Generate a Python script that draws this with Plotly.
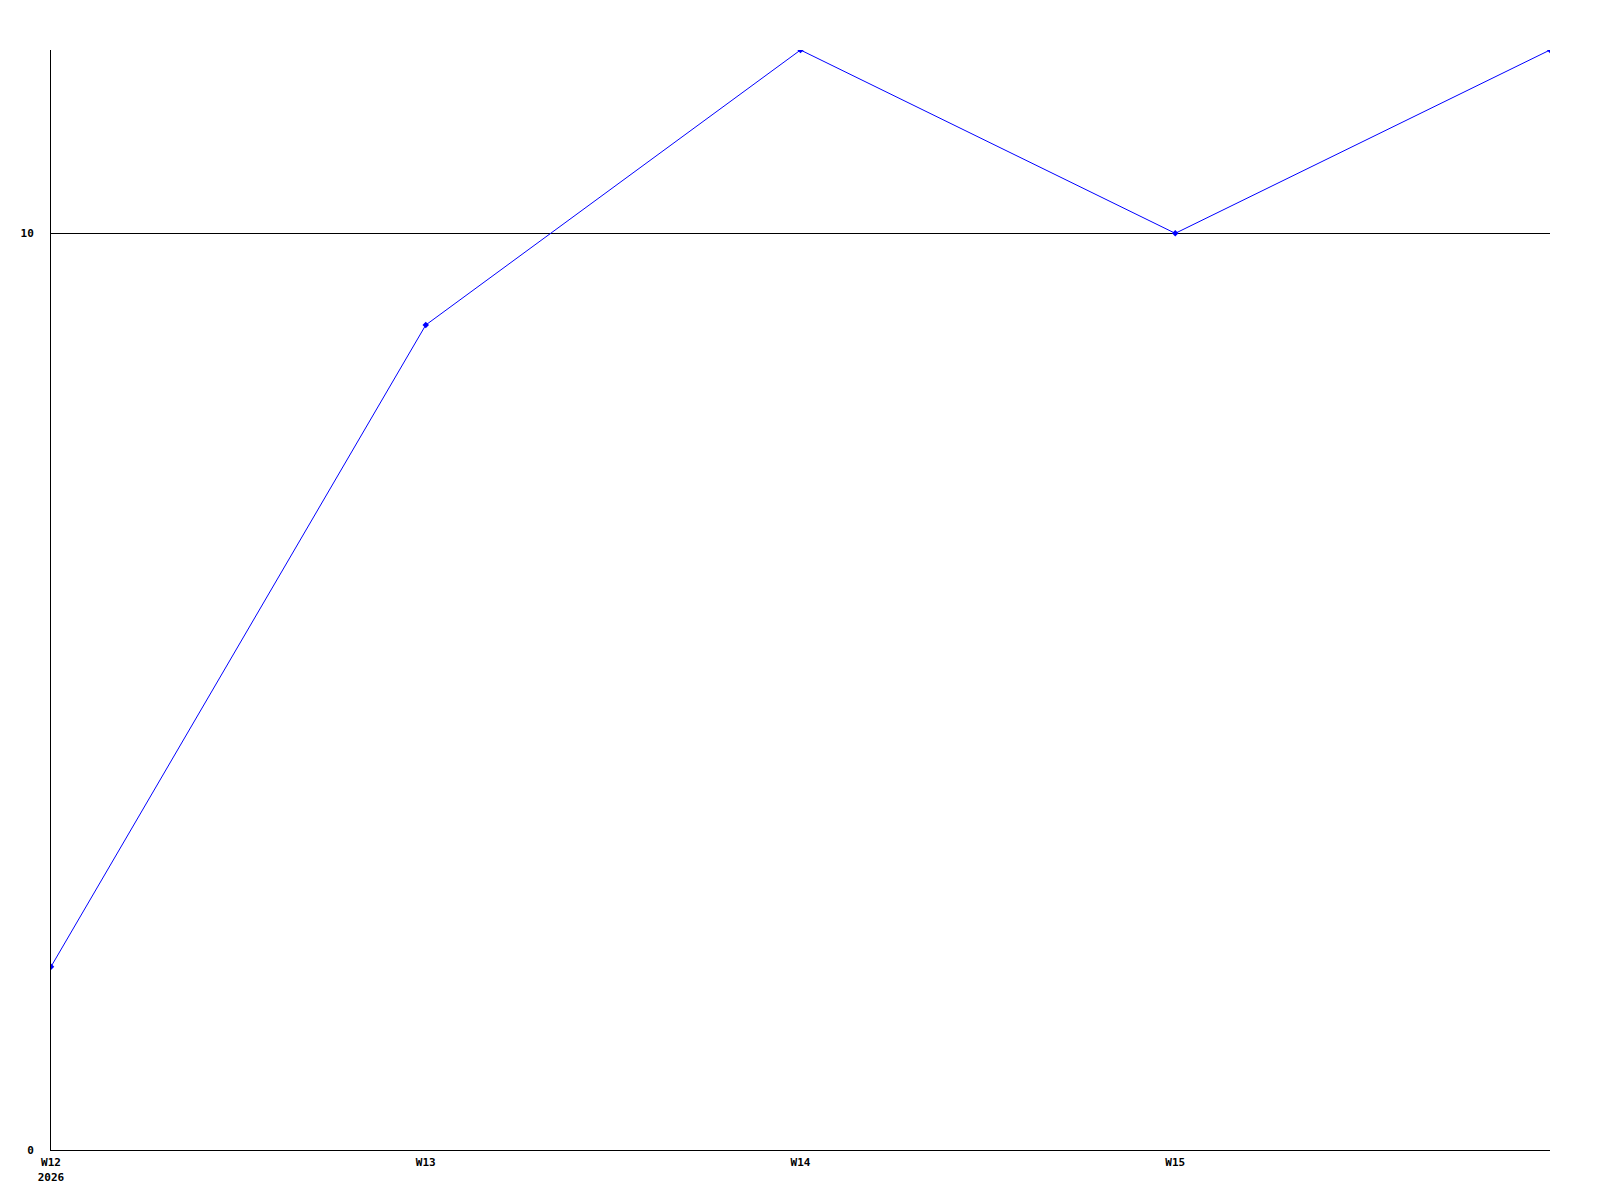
import plotly.graph_objects as go

weeks = ["W12", "W13", "W14", "W15", "W16"]
values = [2, 9, 12, 10, 12]
x_tick_labels = ["W12<br>2026", "W13", "W14", "W15"]
y_tick_values = [0, 10]

xpos = list(range(len(weeks)))

fig = go.Figure()
fig.add_trace(go.Scatter(
    x=xpos, y=values, mode="lines+markers",
    line=dict(color="#0000ff", width=1),
    marker=dict(symbol="diamond", size=5, color="#0000ff"),
    hoverinfo="skip", showlegend=False,
))

font = dict(family="DejaVu Sans Mono", size=11, color="black")
fig.update_layout(
    width=1584, height=1184,
    margin=dict(l=43, r=42, t=42, b=42, pad=0),
    paper_bgcolor="white", plot_bgcolor="white",
    font=font,
    xaxis=dict(
        range=[0, len(weeks) - 1], tickmode="array", automargin=False,
        tickvals=xpos[:len(x_tick_labels)], ticktext=["<b>%s</b>" % t.replace("<br>", "</b><br><b>") for t in x_tick_labels],
        showgrid=False, zeroline=False, showline=True, linecolor="black", linewidth=1,
        ticks="", ticklabelstandoff=2,
    ),
    yaxis=dict(
        range=[0, 12], tickmode="array", tickvals=y_tick_values, automargin=False,
        ticktext=["<b>%d</b>" % v for v in y_tick_values],
        showgrid=True, gridcolor="black", gridwidth=1, zeroline=False,
        showline=True, linecolor="black", linewidth=1, ticks="", ticklabelstandoff=14,
    ),
)
fig.write_html("out.html")
